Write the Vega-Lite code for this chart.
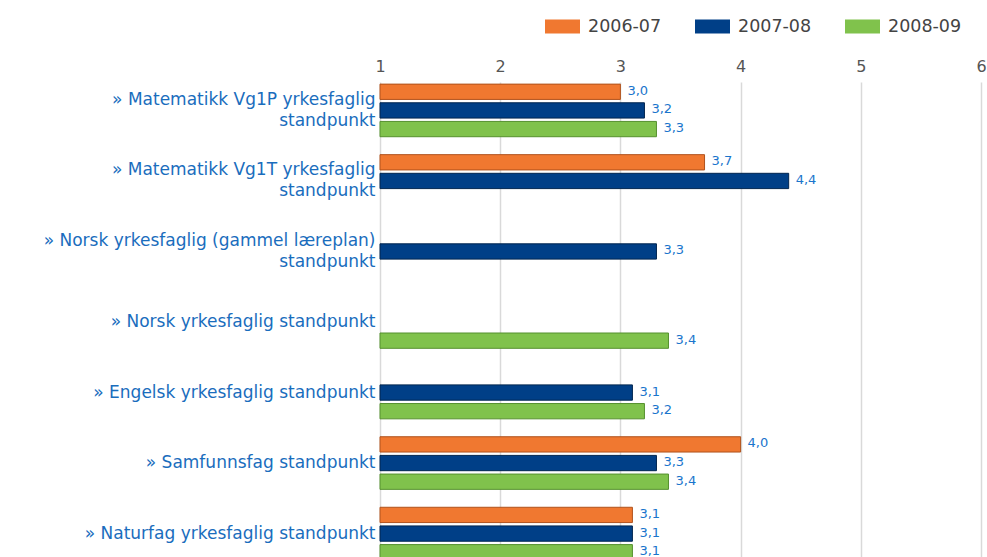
{
  "$schema": "https://vega.github.io/schema/vega-lite/v6.json",
  "autosize": {"type": "none"},
  "padding": {"left": 380, "top": 82, "right": 6, "bottom": 0},
  "width": 601,
  "height": 480,
  "background": "#ffffff",
  "data": {
    "values": [
      {"fag": "Matematikk Vg1P yrkesfaglig standpunkt", "aar": "2006-07", "verdi": 3.0},
      {"fag": "Matematikk Vg1P yrkesfaglig standpunkt", "aar": "2007-08", "verdi": 3.2},
      {"fag": "Matematikk Vg1P yrkesfaglig standpunkt", "aar": "2008-09", "verdi": 3.3},
      {"fag": "Matematikk Vg1T yrkesfaglig standpunkt", "aar": "2006-07", "verdi": 3.7},
      {"fag": "Matematikk Vg1T yrkesfaglig standpunkt", "aar": "2007-08", "verdi": 4.4},
      {"fag": "Norsk yrkesfaglig (gammel læreplan) standpunkt", "aar": "2007-08", "verdi": 3.3},
      {"fag": "Norsk yrkesfaglig standpunkt", "aar": "2008-09", "verdi": 3.4},
      {"fag": "Engelsk yrkesfaglig standpunkt", "aar": "2007-08", "verdi": 3.1},
      {"fag": "Engelsk yrkesfaglig standpunkt", "aar": "2008-09", "verdi": 3.2},
      {"fag": "Samfunnsfag standpunkt", "aar": "2006-07", "verdi": 4.0},
      {"fag": "Samfunnsfag standpunkt", "aar": "2007-08", "verdi": 3.3},
      {"fag": "Samfunnsfag standpunkt", "aar": "2008-09", "verdi": 3.4},
      {"fag": "Naturfag yrkesfaglig standpunkt", "aar": "2006-07", "verdi": 3.1},
      {"fag": "Naturfag yrkesfaglig standpunkt", "aar": "2007-08", "verdi": 3.1},
      {"fag": "Naturfag yrkesfaglig standpunkt", "aar": "2008-09", "verdi": 3.1}
    ]
  },
  "encoding": {
    "y": {
      "field": "fag",
      "type": "nominal",
      "sort": null,
      "scale": {"paddingInner": 0.254, "paddingOuter": 0.03},
      "axis": {
        "title": null,
        "domain": false,
        "ticks": false,
        "labelPadding": 5,
        "labelLimit": 500,
        "labelFontSize": 17,
        "labelColor": "#1a6dbd",
        "labelLineHeight": 21,
        "labelOffset": {"condition": {"test": "length(datum.value) > 34", "value": -10.5}, "value": 0},
        "labelExpr": "length(datum.label) > 34 ? ['» ' + replace(datum.label, ' standpunkt', ''), 'standpunkt'] : '» ' + datum.label"
      }
    },
    "yOffset": {
      "field": "aar",
      "type": "nominal",
      "scale": {"paddingInner": 0.18, "paddingOuter": 0}
    },
    "x": {
      "field": "verdi",
      "type": "quantitative",
      "scale": {"domain": [1, 6], "zero": false, "nice": false},
      "axis": {
        "orient": "top",
        "title": null,
        "domain": false,
        "ticks": false,
        "values": [1, 2, 3, 4, 5, 6],
        "format": "d",
        "labelFlush": false,
        "labelPadding": 8,
        "labelFontSize": 16,
        "labelColor": "#555555",
        "grid": true,
        "gridColor": "#d9d9d9",
        "gridWidth": 1.5
      }
    }
  },
  "layer": [
    {
      "mark": {"type": "bar", "strokeWidth": 1},
      "encoding": {
        "x2": {"datum": 1},
        "color": {
          "field": "aar",
          "type": "nominal",
          "scale": {"domain": ["2006-07", "2007-08", "2008-09"], "range": ["#f07830", "#003f87", "#80c24c"]},
          "legend": {
            "title": null,
            "orient": "none",
            "direction": "horizontal",
            "legendX": 165,
            "legendY": -73,
            "padding": 0,
            "symbolType": "M-1,-0.4H1V0.4H-1Z",
            "symbolSize": 1225,
            "symbolStrokeWidth": 0,
            "labelFontSize": 17.5,
            "labelColor": "#444444",
            "labelOffset": 8,
            "columnPadding": 33
          }
        },
        "stroke": {
          "field": "aar",
          "type": "nominal",
          "scale": {"domain": ["2006-07", "2007-08", "2008-09"], "range": ["#b0521c", "#00254f", "#55902e"]},
          "legend": null
        }
      }
    },
    {
      "mark": {"type": "text", "align": "left", "baseline": "middle", "dx": 7, "dy": -1, "fontSize": 13, "color": "#1a75cc"},
      "encoding": {
        "text": {"field": "verdi", "type": "quantitative", "format": ".1f"}
      }
    }
  ],
  "config": {
    "font": "DejaVu Sans",
    "view": {"stroke": null},
    "locale": {"number": {"decimal": ",", "thousands": " ", "grouping": [3], "currency": ["", " kr"]}}
  }
}
